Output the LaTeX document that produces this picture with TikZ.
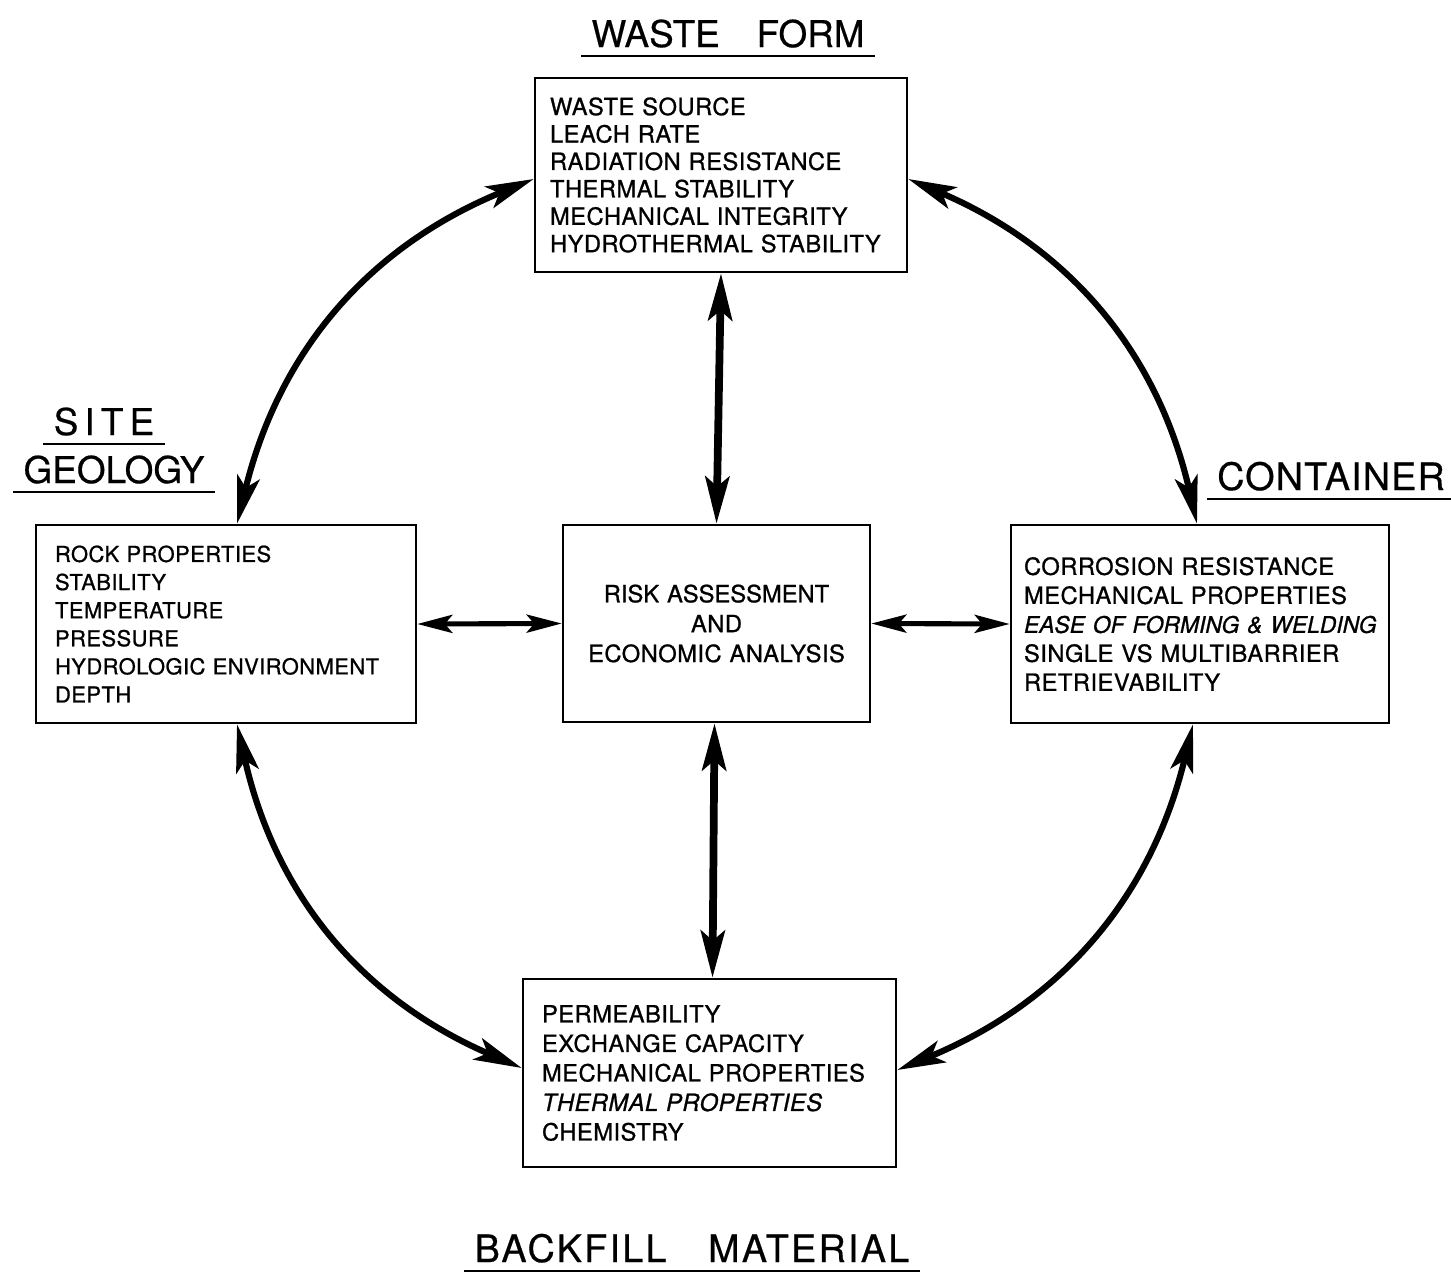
\documentclass[tikz,border=0pt]{standalone}
\usepackage{fontspec}
\setmainfont{TeX Gyre Heros}
\newfontfamily\bxfam{TeX Gyre Heros}[WordSpace=2.2, LetterSpace=2, FakeBold=0.9]
\newfontfamily\bxfamn{TeX Gyre Heros}[FakeBold=0.9]
\newfontfamily\ttlfam{TeX Gyre Heros}[FakeBold=0.5]
\usetikzlibrary{arrows.meta,calc}
\newcommand\bxf[2]{\bxfam\fontsize{#1}{#2}\selectfont}
\begin{document}
\begin{tikzpicture}[x=0.02cm,y=-0.02cm,
  box/.style={draw, line width=1.5pt, inner ysep=0pt, anchor=center},
  ttl/.style={font=\ttlfam\fontsize{21}{25}\selectfont, anchor=base, inner xsep=0.2cm, inner ysep=0.16cm},
  uline/.style={line width=1.6pt},
  curarrow/.style={line width=3.5pt, >={Stealth[length=0.96cm,width=0.46cm,inset=0.22cm]}, <->},
  varrow/.style={line width=4.4pt, >={Stealth[length=0.94cm,width=0.48cm,inset=0.2cm]}, <->},
  harrow/.style={line width=2.9pt, >={Stealth[length=0.7cm,width=0.36cm,inset=0.15cm]}, <->}
]
\fill[white] (0,0) rectangle (1451,1275);
\useasboundingbox (0,0) rectangle (1451,1275);

% boxes
\node[box, minimum width=7.44cm, minimum height=3.88cm, text width=6.84cm, inner xsep=0.3cm, align=left, font=\bxf{13.5}{15.6}] (wf) at (721,175)
 {WASTE SOURCE\\LEACH RATE\\RADIATION RESISTANCE\\THERMAL STABILITY\\MECHANICAL INTEGRITY\\HYDROTHERMAL STABILITY};

\node[box, minimum width=7.6cm, minimum height=3.96cm, text width=6.84cm, inner xsep=0.38cm, align=left, font=\bxf{12.5}{16}] (sg) at (226,624)
 {ROCK PROPERTIES\\STABILITY\\TEMPERATURE\\PRESSURE\\HYDROLOGIC ENVIRONMENT\\DEPTH};

\node[box, minimum width=6.14cm, minimum height=3.94cm, text width=5.5cm, inner xsep=0.32cm, align=center, font=\bxf{13.5}{17}] (rc) at (716.5,623.5)
 {{\bxfamn RISK ASSESSMENT}\\AND\\ECONOMIC ANALYSIS};

\node[box, minimum width=7.56cm, minimum height=3.96cm, text width=7.04cm, inner xsep=0.26cm, align=left, font=\bxf{13.5}{16.5}] (ct) at (1200,624)
 {CORROSION RESISTANCE\\MECHANICAL PROPERTIES\\\mbox{\bxfamn\itshape\fontsize{13}{16.5}\selectfont EASE OF FORMING \& WELDING}\\SINGLE VS MULTIBARRIER\\RETRIEVABILITY};

\node[box, minimum width=7.46cm, minimum height=3.76cm, text width=6.7cm, inner xsep=0.38cm, align=left, font=\bxf{13.5}{16.8}] (bf) at (709.5,1073)
 {PERMEABILITY\\EXCHANGE CAPACITY\\MECHANICAL PROPERTIES\\{\itshape THERMAL PROPERTIES}\\CHEMISTRY};

% titles
\node[ttl] (twf) at (728,47) {WASTE\hspace{1em}FORM};
\node[ttl] (tsite) at (104,435) {S\hspace{3.5pt}I\hspace{3.5pt}T\hspace{3.5pt}E};
\node[ttl] (tgeo) at (114,483) {GEOLOGY};
\node[ttl, font=\ttlfam\fontsize{21.5}{25}\selectfont\addfontfeature{LetterSpace=3}] (tct) at (1331,490) {CONTAINER};
\node[ttl, font=\ttlfam\fontsize{21.5}{25}\selectfont\addfontfeature{LetterSpace=6}] (tbf) at (692,1262) {BACKFILL\hspace{1.1em}MATERIAL};
\foreach \t in {twf,tsite,tgeo,tct,tbf}
  \draw[uline] (\t.south west) -- (\t.south east);

% connectors
\draw[curarrow] ($(wf.west)+(0,4)$) to[bend right=27] ($(sg.north)+(11,0)$);
\draw[curarrow] ($(wf.east)+(0,4)$) to[bend left=27] ($(ct.north)+(-3,0)$);
\draw[curarrow] ($(sg.south)+(11,0)$) to[bend right=27] ($(bf.west)+(0,-5)$);
\draw[curarrow] ($(ct.south)+(-7,0)$) to[bend left=27] ($(bf.east)+(0,-3)$);
\draw[varrow] (wf.south) -- (rc.north);
\draw[varrow] ($(rc.south)+(-2,0)$) -- ($(bf.north)+(3,0)$);
\draw[harrow] (sg.east) -- (rc.west);
\draw[harrow] (rc.east) -- (ct.west);
\end{tikzpicture}
\end{document}
